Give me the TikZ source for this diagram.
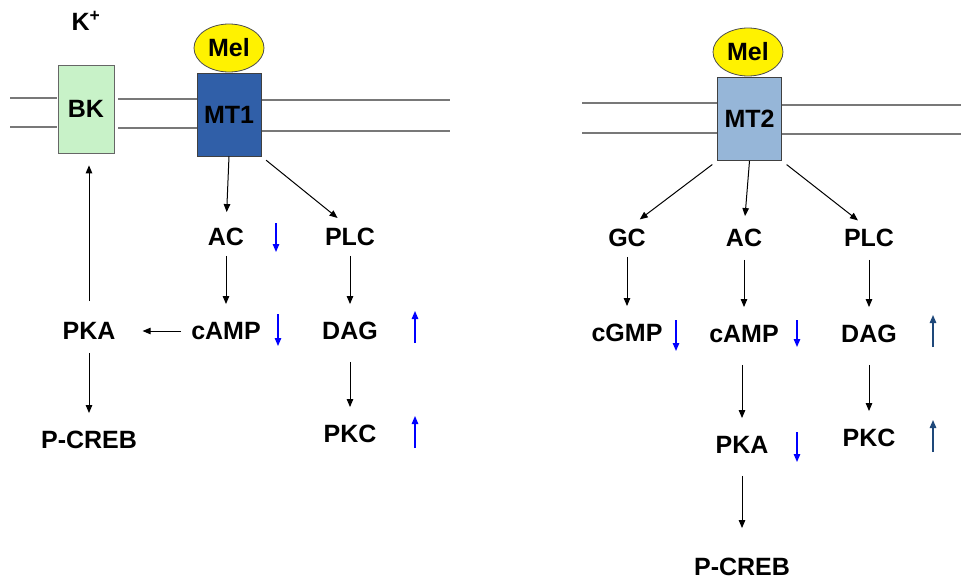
\documentclass[tikz,border=0pt]{standalone}
\usepackage{fontspec}
\setmainfont{Liberation Sans}
\usetikzlibrary{arrows.meta,shapes.geometric,positioning}
\definecolor{bkGreen}{RGB}{200,242,200}
\definecolor{mtOneBlue}{RGB}{48,95,168}
\definecolor{mtTwoBlue}{RGB}{150,182,216}
\definecolor{memGray}{RGB}{120,120,120}
\definecolor{upDark}{RGB}{30,72,122}
\tikzset{
myLabel/.style={
	inner sep=0pt, text=black,
	font=\fontsize{25}{29}\selectfont\bfseries,
	text height=17.5pt, text depth=0pt
}
, myChannel/.style={
	myLabel, rectangle, draw=black!60, fill=bkGreen, thick,
	minimum width=56pt, minimum height=88pt
}
, myReceptor/.style={
	myLabel, rectangle, draw=black!75, thick,
	minimum width=64pt, minimum height=83pt
}
, myMel/.style={
	myLabel, ellipse, draw=black!70, fill=yellow, thick,
	minimum width=70pt, minimum height=48pt
}
% membrane
, myMembrane/.style={draw=memGray, line width=2pt}
% links
, myFlow/.style={-{Triangle[length=8pt,width=6.5pt]}, line width=1pt,
	shorten <=10pt, shorten >=18pt}
, myDown/.style={-{Triangle[length=8pt,width=6.5pt]}, color=blue, line width=1.3pt}
, myUp/.style={-{Triangle[length=8pt,width=6.5pt]}, color=blue, line width=1.3pt}
, myUpDark/.style={-{Triangle[length=8pt,width=6.5pt]}, color=upDark, line width=1.3pt}
}
\begin{document}
\begin{tikzpicture}[x=1pt,y=-1pt]
	\useasboundingbox (0,0) rectangle (961,581);
	% membranes
	\draw[myMembrane] (10,98) -- (57,98) (10,127) -- (57,127);
	\draw[myMembrane] (118,99) -- (197,99) (118,128) -- (197,128);
	\draw[myMembrane] (261,100) -- (450,100) (261,131) -- (450,131);
	\draw[myMembrane] (582,103) -- (718,103) (582,133) -- (718,133);
	\draw[myMembrane] (781,105) -- (961,105) (781,134) -- (961,134);

	% left receptor
	\node[myLabel] (Kion) at (86,22) {K\textsuperscript{+}};
	\node[myChannel] (BK) at (86,109) {BK};
	\node[myReceptor, fill=mtOneBlue] (MTone) at (229,114.5) {MT1};
	\node[myMel] (MelA) at (229,48) {Mel};
	\node[myLabel] (ACa) at (226,237) {AC};
	\node[myLabel] (PLCa) at (350,237) {PLC};
	\node[myLabel] (cAMPa) at (226,331) {cAMP};
	\node[myLabel] (DAGa) at (350,331) {DAG};
	\node[myLabel] (PKCa) at (350,434) {PKC};
	\node[myLabel] (PKAa) at (89,331) {PKA};
	\node[myLabel] (CREBa) at (89,440) {P-CREB};

	% right receptor
	\node[myReceptor, fill=mtTwoBlue] (MTtwo) at (749.5,119) {MT2};
	\node[myMel] (MelB) at (748,52) {Mel};
	\node[myLabel] (GCb) at (627,238) {GC};
	\node[myLabel] (ACb) at (744,238) {AC};
	\node[myLabel] (PLCb) at (869,238) {PLC};
	\node[myLabel] (cGMPb) at (627,333) {cGMP};
	\node[myLabel] (cAMPb) at (744,334) {cAMP};
	\node[myLabel] (DAGb) at (869,334) {DAG};
	\node[myLabel] (PKAb) at (742,445) {PKA};
	\node[myLabel] (PKCb) at (869,438) {PKC};
	\node[myLabel] (CREBb) at (742,567) {P-CREB};

	% links left
	\draw[myFlow, shorten <=0pt, shorten >=16pt] (MTone.south) to (ACa.north);
	\draw[myFlow, shorten <=6pt, shorten >=16pt] (MTone.south east) to (PLCa.north);
	\draw[myFlow] (ACa.south) to (cAMPa.north);
	\draw[myFlow] (PLCa.south) to (DAGa.north);
	\draw[myFlow, shorten <=22pt] (DAGa.south) to (PKCa.north);
	\draw[myFlow, shorten <=10pt, shorten >=27pt] (cAMPa.west) to (PKAa.east);
	\draw[myFlow, shorten <=21pt, shorten >=12pt] (PKAa.north) to (PKAa.north |- BK.south);
	\draw[myFlow, shorten <=13pt] (PKAa.south) to (CREBa.north);

	% links right
	\draw[myFlow, shorten <=6pt, shorten >=16pt] (MTtwo.south west) to (GCb.north);
	\draw[myFlow, shorten <=0pt, shorten >=13pt] (MTtwo.south) to (ACb.north);
	\draw[myFlow, shorten <=6pt, shorten >=14pt] (MTtwo.south east) to (PLCb.north);
	\draw[myFlow] (GCb.south) to (cGMPb.north);
	\draw[myFlow, shorten <=13pt] (ACb.south) to (cAMPb.north);
	\draw[myFlow, shorten <=13pt] (PLCb.south) to (DAGb.north);
	\draw[myFlow, shorten <=22pt] (DAGb.south) to (PKCb.north);
	\draw[myFlow, shorten <=22pt] (PKAb.north |- cAMPb.south) to (PKAb.north);
	\draw[myFlow, shorten <=22pt, shorten >=30pt] (PKAb.south) to (CREBb.north);

	% changes
	\coordinate (acDa) at (276,223);  \coordinate (acDb) at (276,252);
	\coordinate (caDa) at (278,314);  \coordinate (caDb) at (278,346);
	\coordinate (dgUa) at (415,343);  \coordinate (dgUb) at (415,311);
	\coordinate (pcUa) at (415,448);  \coordinate (pcUb) at (415,416);
	\coordinate (cgDa) at (676,320);  \coordinate (cgDb) at (676,351);
	\coordinate (cbDa) at (797,320);  \coordinate (cbDb) at (797,347);
	\coordinate (pbDa) at (797,432);  \coordinate (pbDb) at (797,462);
	\coordinate (dbUa) at (933,347);  \coordinate (dbUb) at (933,315);
	\coordinate (kbUa) at (933,452);  \coordinate (kbUb) at (933,420);
	\draw[myDown] (acDa) -- (acDb);
	\draw[myDown] (caDa) -- (caDb);
	\draw[myUp] (dgUa) -- (dgUb);
	\draw[myUp] (pcUa) -- (pcUb);
	\draw[myDown] (cgDa) -- (cgDb);
	\draw[myDown] (cbDa) -- (cbDb);
	\draw[myDown] (pbDa) -- (pbDb);
	\draw[myUpDark] (dbUa) -- (dbUb);
	\draw[myUpDark] (kbUa) -- (kbUb);
\end{tikzpicture}
\end{document}
